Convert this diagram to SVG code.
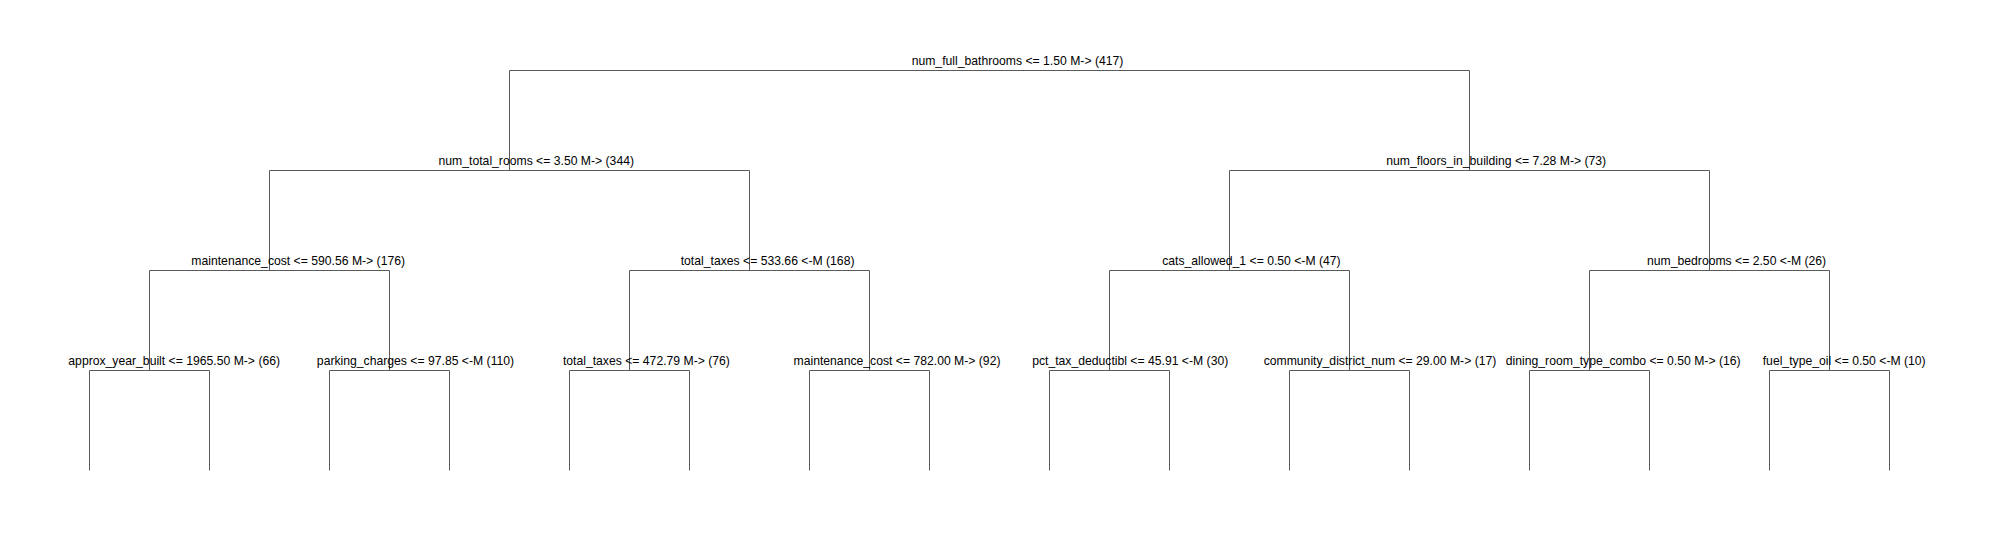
<svg xmlns="http://www.w3.org/2000/svg" width="1993" height="540" viewBox="0 0 1993 540">
<style>
.e{fill:none;stroke:#5a5a5a;stroke-width:1}
.t{font-family:"Liberation Sans",Arial,sans-serif;font-size:12.2px;fill:#000;text-anchor:middle}
</style>
<rect width="1993" height="540" fill="#fff"/>
<g id="connectors">
<path class="e" d="M509.5,170.5V70.5H1469.5V170.5"/>
<path class="e" d="M269.5,270.5V170.5H749.5V270.5"/>
<path class="e" d="M1229.5,270.5V170.5H1709.5V270.5"/>
<path class="e" d="M149.5,370.5V270.5H389.5V370.5"/>
<path class="e" d="M629.5,370.5V270.5H869.5V370.5"/>
<path class="e" d="M1109.5,370.5V270.5H1349.5V370.5"/>
<path class="e" d="M1589.5,370.5V270.5H1829.5V370.5"/>
<path class="e" d="M89.5,470.5V370.5H209.5V470.5"/>
<path class="e" d="M329.5,470.5V370.5H449.5V470.5"/>
<path class="e" d="M569.5,470.5V370.5H689.5V470.5"/>
<path class="e" d="M809.5,470.5V370.5H929.5V470.5"/>
<path class="e" d="M1049.5,470.5V370.5H1169.5V470.5"/>
<path class="e" d="M1289.5,470.5V370.5H1409.5V470.5"/>
<path class="e" d="M1529.5,470.5V370.5H1649.5V470.5"/>
<path class="e" d="M1769.5,470.5V370.5H1889.5V470.5"/>
</g>
<g id="n1"><text class="t" x="1017.5" y="64.5">num_full_bathrooms &lt;= 1.50 M-&gt; (417)</text></g>
<g id="n2"><text class="t" x="536.3" y="164.5">num_total_rooms &lt;= 3.50 M-&gt; (344)</text></g>
<g id="n3"><text class="t" x="1496.2" y="164.5">num_floors_in_building &lt;= 7.28 M-&gt; (73)</text></g>
<g id="n4"><text class="t" x="298.2" y="264.5">maintenance_cost &lt;= 590.56 M-&gt; (176)</text></g>
<g id="n5"><text class="t" x="767.6" y="264.5">total_taxes &lt;= 533.66 &lt;-M (168)</text></g>
<g id="n6"><text class="t" x="1251.4" y="264.5">cats_allowed_1 &lt;= 0.50 &lt;-M (47)</text></g>
<g id="n7"><text class="t" x="1736.6" y="264.5">num_bedrooms &lt;= 2.50 &lt;-M (26)</text></g>
<g id="n8"><text class="t" x="174.2" y="364.5">approx_year_built &lt;= 1965.50 M-&gt; (66)</text></g>
<g id="n9"><text class="t" x="415.5" y="364.5">parking_charges &lt;= 97.85 &lt;-M (110)</text></g>
<g id="n10"><text class="t" x="646.4" y="364.5">total_taxes &lt;= 472.79 M-&gt; (76)</text></g>
<g id="n11"><text class="t" x="897" y="364.5">maintenance_cost &lt;= 782.00 M-&gt; (92)</text></g>
<g id="n12"><text class="t" x="1130.2" y="364.5">pct_tax_deductibl &lt;= 45.91 &lt;-M (30)</text></g>
<g id="n13"><text class="t" x="1380" y="364.5">community_district_num &lt;= 29.00 M-&gt; (17)</text></g>
<g id="n14"><text class="t" x="1623.2" y="364.5">dining_room_type_combo &lt;= 0.50 M-&gt; (16)</text></g>
<g id="n15"><text class="t" x="1844.2" y="364.5">fuel_type_oil &lt;= 0.50 &lt;-M (10)</text></g>
</svg>
